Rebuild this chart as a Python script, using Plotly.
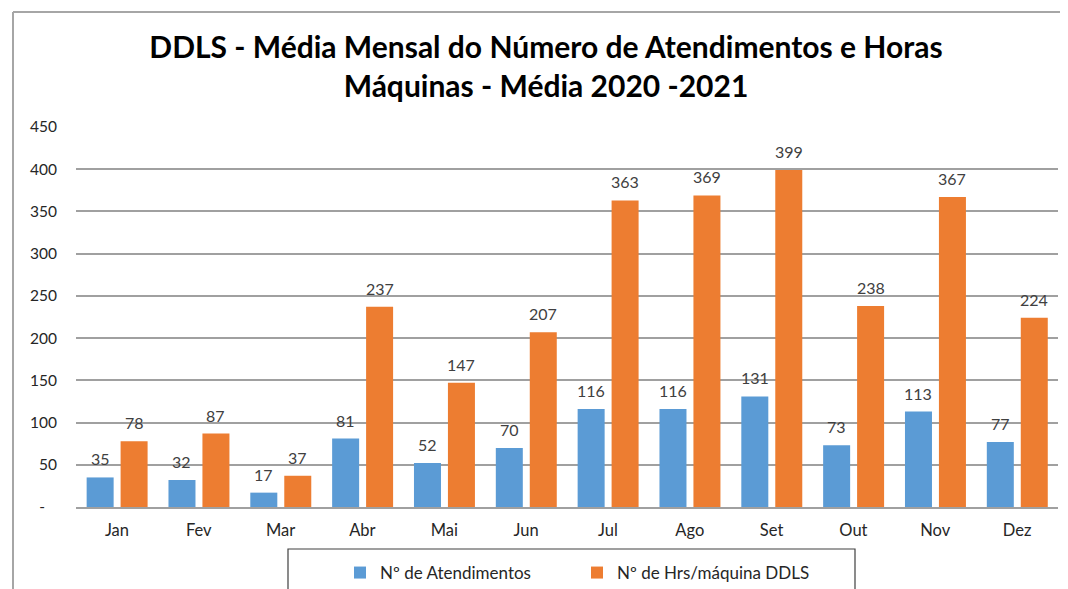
import plotly.graph_objects as go

months = ["Jan", "Fev", "Mar", "Abr", "Mai", "Jun", "Jul", "Ago", "Set", "Out", "Nov", "Dez"]
atendimentos = [35, 32, 17, 81, 52, 70, 116, 116, 131, 73, 113, 77]
horas_maquina = [78, 87, 37, 237, 147, 207, 363, 369, 399, 238, 367, 224]
y_tickvals = [0, 50, 100, 150, 200, 250, 300, 350, 400, 450]
y_ticktext = ["-\u00a0\u00a0\u00a0", "50", "100", "150", "200", "250", "300", "350", "400", "450"]

W, H = 1068, 589
OFF = 8  # page body margin offset in the screenshot
SX0, SX1, SY0, SY1 = 76, 1058, 127, 507
L, T = SX0 - OFF, SY0 - OFF
R, B = W - (SX1 - OFF), H - (SY1 - OFF)
PW, PH = W - L - R, H - T - B
CAT_PX = PW / len(months)

def px_x(px):
    return (px - OFF - L) / PW

def px_y(py):
    return (H - B - (py - OFF)) / PH

FONT = "Lato"
BLUE = "#5B9BD5"
ORANGE = "#ED7D31"
GRID = "#A0A0A0"
BAR_W = 0.33
OFFS = {"a": -0.37, "h": 0.045}

fig = go.Figure()
fig.add_trace(go.Bar(
    x=months, y=atendimentos, name="Nº de Atendimentos",
    marker=dict(color=BLUE, line=dict(width=0)),
    width=BAR_W, offset=OFFS["a"],
))
fig.add_trace(go.Bar(
    x=months, y=horas_maquina, name="Nº de Hrs/máquina DDLS",
    marker=dict(color=ORANGE, line=dict(width=0)),
    width=BAR_W, offset=OFFS["h"],
))

annotations = []
for key, vals in (("a", atendimentos), ("h", horas_maquina)):
    shift = (OFFS[key] + BAR_W / 2) * CAT_PX
    for m, v in zip(months, vals):
        annotations.append(dict(
            x=m, y=v, xref="x", yref="y", text=str(v), showarrow=False,
            xanchor="center", yanchor="bottom", xshift=shift, yshift=7,
            font=dict(family=FONT, size=16, color="#404040"),
        ))

shapes = [
    dict(type="line", xref="paper", yref="paper", x0=px_x(13), x1=px_x(13), y0=px_y(12), y1=px_y(600),
         line=dict(color="#A6A6A6", width=2)),
    dict(type="line", xref="paper", yref="paper", x0=px_x(13), x1=px_x(1080), y0=px_y(12), y1=px_y(12),
         line=dict(color="#A6A6A6", width=2)),
    dict(type="rect", xref="paper", yref="paper", x0=px_x(288), x1=px_x(855), y0=px_y(549), y1=px_y(610),
         line=dict(color="#404040", width=1.2), fillcolor="rgba(0,0,0,0)"),
]

fig.update_layout(
    width=W, height=H,
    margin=dict(l=L, r=R, t=T, b=B, autoexpand=False),
    paper_bgcolor="white", plot_bgcolor="white",
    barmode="overlay",
    font=dict(family=FONT, size=15, color="#404040"),
    title=dict(
        text="<b>DDLS - Média Mensal do Número de Atendimentos e Horas<br>Máquinas - Média 2020 -2021</b>",
        x=(546 - OFF) / W, xanchor="center", xref="container",
        y=1 - (58 - OFF) / H, yanchor="middle", yref="container",
        font=dict(family=FONT, size=30, color="#000000"),
    ),
    xaxis=dict(
        type="category", range=[-0.5, 11.5],
        showgrid=False, showline=True, linecolor=GRID, linewidth=1.5,
        ticks="", ticklabelstandoff=7,
        tickfont=dict(family=FONT, size=16.5, color="#262626"),
    ),
    yaxis=dict(
        range=[0, 450], tickvals=y_tickvals, ticktext=y_ticktext,
        showgrid=True, gridcolor=GRID, gridwidth=1.5,
        zeroline=False, showline=False, ticks="",
        ticklabelstandoff=18,
        tickfont=dict(family=FONT, size=15.5, color="#262626"),
    ),
    showlegend=True,
    legend=dict(
        orientation="h", x=px_x(340), xanchor="left", y=px_y(573), yanchor="middle",
        bgcolor="rgba(0,0,0,0)", borderwidth=0,
        font=dict(family=FONT, size=17, color="#262626"),
        entrywidth=192, entrywidthmode="pixels",
    ),
    shapes=shapes,
    annotations=annotations,
)

fig.write_html("out.html")
